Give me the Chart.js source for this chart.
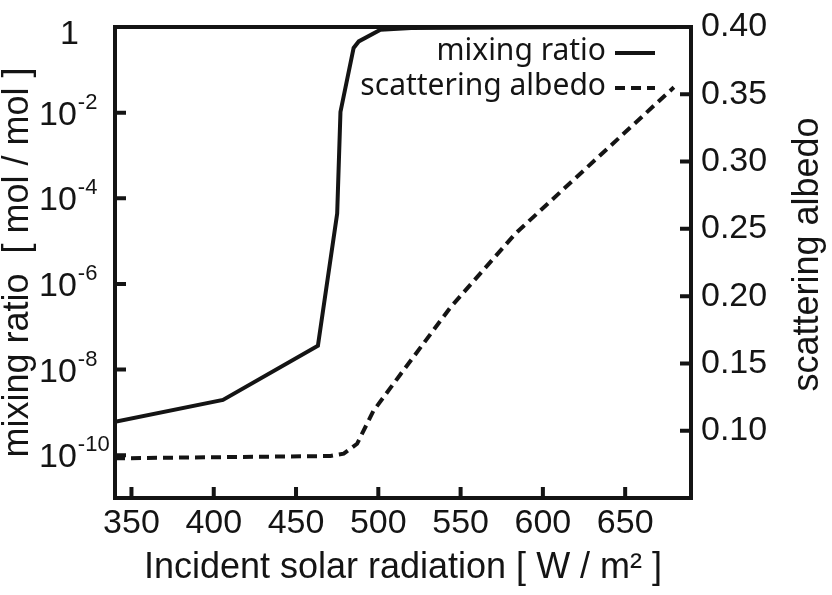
<!DOCTYPE html>
<html>
<head>
<meta charset="utf-8">
<script src="https://cdn.jsdelivr.net/npm/chart.js@4.4.0/dist/chart.umd.min.js"></script>
<style>
html,body{margin:0;padding:0;background:#fff;}
#wrap{width:832px;height:595px;position:relative;}
</style>
</head>
<body>
<div id="wrap"><canvas id="c"></canvas></div>
<script>
// ---- data ----
const mixingX = [340, 405.6, 463.3, 475.0, 477.0, 485.0, 488.1, 501.3, 520, 600, 690];
const mixingRatio = [6.0e-10, 1.95e-9, 3.6e-8, 4.4e-5, 1.04e-2, 0.325, 0.46, 0.86, 0.95, 0.99, 1.0];
const albedoX = [340, 470.9, 479.0, 487.1, 497.0, 513.4, 543.8, 583.3, 679.6];
const scatteringAlbedo = [0.0795, 0.0812, 0.0829, 0.0903, 0.1147, 0.1418, 0.1916, 0.2465, 0.3552];
const seriesNames = ['mixing ratio', 'scattering albedo'];
const xTicks = [350, 400, 450, 500, 550, 600, 650];
const mixingTicks = [1e-10, 1e-8, 1e-6, 1e-4, 1e-2, 1];
const mixingTickBases = ['10', '10', '10', '10', '10', '1'];
const mixingTickExponents = ['-10', '-8', '-6', '-4', '-2', ''];
const albedoTicks = [0.10, 0.15, 0.20, 0.25, 0.30, 0.35, 0.40];
const albedoTickLabels = ['0.10', '0.15', '0.20', '0.25', '0.30', '0.35', '0.40'];
const xTitle = 'Incident solar radiation [ W / m\u00B2 ]';
const yTitle = 'mixing ratio  [ mol / mol ]';
const y2Title = 'scattering albedo';

const INK = '#141414';
const FONT = '"Liberation Sans", Arial, Helvetica, sans-serif';

const framePlugin = {
  id: 'framePlugin',
  afterDatasetsDraw(chart) {
    const ctx = chart.ctx;
    const a = chart.chartArea;
    const sx = chart.scales.x, sy = chart.scales.y, sy2 = chart.scales.y2;
    ctx.save();
    ctx.strokeStyle = INK;
    ctx.lineWidth = 4;
    ctx.lineCap = 'butt';
    ctx.strokeRect(a.left, a.top, a.right - a.left, a.bottom - a.top);
    const L = 11;
    ctx.beginPath();
    sx.ticks.forEach(t => { const p = sx.getPixelForValue(t.value); ctx.moveTo(p, a.bottom); ctx.lineTo(p, a.bottom - L); });
    sy.ticks.forEach(t => { const p = sy.getPixelForValue(t.value); ctx.moveTo(a.left, p); ctx.lineTo(a.left + L, p); });
    sy2.ticks.forEach(t => { const p = sy2.getPixelForValue(t.value); ctx.moveTo(a.right, p); ctx.lineTo(a.right - L, p); });
    ctx.stroke();
    ctx.restore();
  },
  afterDraw(chart) {
    const ctx = chart.ctx;
    const a = chart.chartArea;
    const sy = chart.scales.y;
    ctx.save();
    ctx.fillStyle = INK;
    // left (log) tick labels with superscript exponents
    ctx.textAlign = 'left';
    ctx.textBaseline = 'alphabetic';
    sy.ticks.forEach(t => {
      const i = mixingTicks.findIndex(v => Math.abs(Math.log10(v) - Math.log10(t.value)) < 1e-6);
      if (i < 0) return;
      const p = sy.getPixelForValue(t.value);
      const base = mixingTickBases[i], ex = mixingTickExponents[i];
      ctx.font = '34px ' + FONT;
      if (!ex) {
        ctx.fillText(base, 60, p + 17);
        return;
      }
      ctx.fillText(base, 39, p + 12);
      const w = ctx.measureText(base).width;
      ctx.font = '22px ' + FONT;
      ctx.fillText(ex, 39 + w + 1, p - 4);
    });
    // legend (text then line sample on the right)
    ctx.font = '30px "Noto Sans", sans-serif';
    ctx.textAlign = 'right';
    ctx.textBaseline = 'middle';
    const rows = [53, 88];
    chart.data.datasets.forEach((ds, i) => {
      const y = rows[i];
      ctx.fillText(ds.label, 606, y - 2);
      ctx.save();
      ctx.strokeStyle = ds.borderColor;
      ctx.lineWidth = ds.borderWidth;
      ctx.setLineDash(ds.borderDash || []);
      ctx.beginPath();
      ctx.moveTo(615, y);
      ctx.lineTo(655, y);
      ctx.stroke();
      ctx.restore();
    });
    // right axis title, reading bottom-to-top
    const tt = chart.scales.y2.options.title;
    ctx.font = '36px ' + FONT;
    ctx.textAlign = 'center';
    ctx.textBaseline = 'alphabetic';
    ctx.translate(818, (a.top + a.bottom) / 2 - 8);
    ctx.rotate(-Math.PI / 2);
    ctx.fillText(tt.text, 0, 0);
    ctx.restore();
  }
};

const tickFont = { family: FONT, size: 34, lineHeight: 1 };
const titleFont = { family: FONT, size: 36, lineHeight: 1 };

new Chart(document.getElementById('c'), {
  type: 'line',
  data: {
    datasets: [
      {
        label: seriesNames[0],
        data: mixingX.map((x, i) => ({ x: x, y: mixingRatio[i] })),
        yAxisID: 'y',
        borderColor: INK,
        borderWidth: 4,
        borderDash: [],
        pointRadius: 0,
        tension: 0,
        fill: false
      },
      {
        label: seriesNames[1],
        data: albedoX.map((x, i) => ({ x: x, y: scatteringAlbedo[i] })),
        yAxisID: 'y2',
        borderColor: INK,
        borderWidth: 4,
        borderDash: [10, 6],
        pointRadius: 0,
        tension: 0,
        fill: false
      }
    ]
  },
  options: {
    responsive: true,
    maintainAspectRatio: false,
    animation: false,
    devicePixelRatio: 1,
    layout: { padding: { top: 20, left: 0, right: 0, bottom: 0 } },
    plugins: { legend: { display: false }, tooltip: { enabled: false } },
    scales: {
      x: {
        type: 'linear',
        position: 'bottom',
        min: 340,
        max: 690,
        afterBuildTicks: s => { s.ticks = xTicks.map(v => ({ value: v })); },
        afterFit: s => { s.height = 97; },
        ticks: { font: tickFont, color: INK, padding: 9, maxRotation: 0, autoSkip: false,
                 callback: v => String(v) },
        grid: { display: false, drawTicks: false },
        border: { display: false },
        title: { display: true, text: xTitle, font: titleFont, color: INK, padding: { top: 0, bottom: 9 } }
      },
      yT: {
        type: 'linear',
        position: 'left',
        weight: 10,
        min: 0,
        max: 1,
        afterFit: s => { s.width = 36; },
        ticks: { display: false },
        grid: { display: false, drawTicks: false },
        border: { display: false },
        title: { display: true, text: yTitle, font: titleFont, color: INK, padding: 0 }
      },
      y: {
        type: 'logarithmic',
        position: 'left',
        weight: 0,
        min: 1e-11,
        max: 1,
        afterBuildTicks: s => { s.ticks = mixingTicks.map(v => ({ value: v })); },
        afterFit: s => { s.width = 79; },
        ticks: { display: false, font: tickFont, autoSkip: false },
        grid: { display: false, drawTicks: false },
        border: { display: false }
      },
      y2: {
        type: 'linear',
        position: 'right',
        min: 0.05,
        max: 0.40,
        afterBuildTicks: s => { s.ticks = albedoTicks.map(v => ({ value: v })); },
        afterFit: s => { s.width = 141; },
        ticks: { font: tickFont, color: INK, padding: 10, crossAlign: 'near', autoSkip: false,
                 callback: (v) => albedoTickLabels[albedoTicks.findIndex(t => Math.abs(t - v) < 1e-6)] },
        grid: { display: false, drawTicks: false },
        border: { display: false },
        title: { display: false, text: y2Title }
      }
    }
  },
  plugins: [framePlugin]
});
</script>
</body>
</html>
